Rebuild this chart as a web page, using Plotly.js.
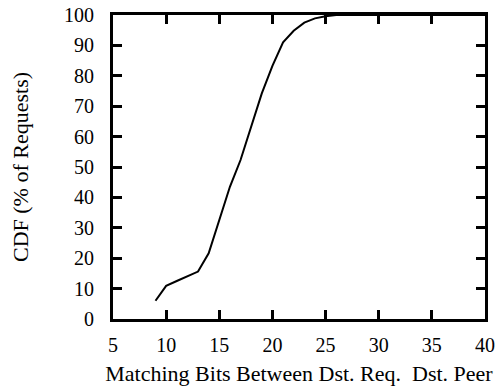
<!DOCTYPE html>
<html>
<head>
<meta charset="utf-8">
<script src="https://cdn.plot.ly/plotly-3.0.1.min.js"></script>
<style>html,body{margin:0;padding:0;background:#fff;}#chart{width:501px;height:391px;}</style>
</head>
<body>
<div id="chart"></div>
<script>
const matchingBits = [9, 10, 11, 12, 13, 14, 15, 16, 17, 18, 19, 20, 21, 22, 23, 24, 25, 26, 30, 35, 40];
const cdfPercent   = [6.0, 10.9, 12.5, 14.0, 15.6, 21.6, 32.5, 43.5, 52.3, 63.2, 74.2, 83.3, 91.0, 94.8, 97.5, 98.9, 99.6, 100, 100, 100, 100];
const xTickVals = [5, 10, 15, 20, 25, 30, 35, 40];
const yTickVals = [0, 10, 20, 30, 40, 50, 60, 70, 80, 90, 100];
const xTitle = "Matching Bits Between Dst. Req. \u00a0Dst. Peer";
const yTitle = "CDF (% of Requests)";

const fam = "Liberation Serif, Times New Roman, serif";
const tickFont = {family: fam, size: 20, color: "#000"};
const titleFont = {family: fam, size: 22, color: "#000"};

Plotly.newPlot("chart", [{
  x: matchingBits, y: cdfPercent, type: "scatter", mode: "lines",
  line: {color: "#000", width: 2}, showlegend: false
}], {
  width: 501, height: 391,
  margin: {l: 113, r: 16, t: 15, b: 72, pad: 0},
  paper_bgcolor: "#fff", plot_bgcolor: "#fff",
  font: tickFont,
  xaxis: {
    range: [5, 40], tickvals: xTickVals, ticks: "inside", ticklen: 9, tickwidth: 3, tickcolor: "#000",
    showline: true, linewidth: 3, linecolor: "#000", mirror: "ticks", showgrid: false, zeroline: false,
    ticklabelstandoff: 6, tickfont: tickFont,
    title: {text: xTitle, font: titleFont, standoff: 11}
  },
  yaxis: {
    range: [0, 100], tickvals: yTickVals, ticks: "inside", ticklen: 9, tickwidth: 3, tickcolor: "#000",
    showline: true, linewidth: 3, linecolor: "#000", mirror: "ticks", showgrid: false, zeroline: false,
    ticklabelstandoff: 12, tickfont: tickFont,
    title: {text: yTitle, font: titleFont, standoff: 30}
  }
}, {staticPlot: true});
</script>
</body>
</html>
